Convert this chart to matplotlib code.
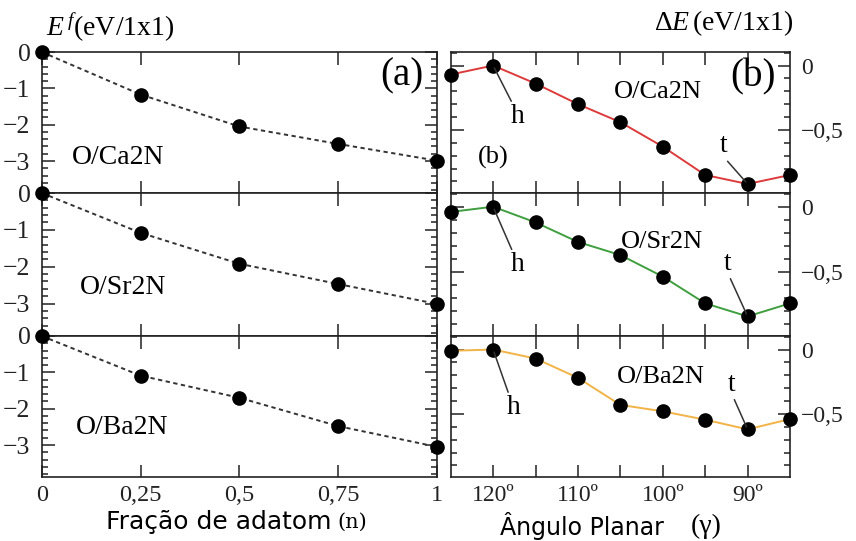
import matplotlib
matplotlib.use("Agg")
import matplotlib.pyplot as plt
from matplotlib.ticker import FixedLocator, MultipleLocator

# ---------------- data ----------------
frac_n = [0.0, 0.25, 0.5, 0.75, 1.0]
ef_ca = [0.0, -1.17, -2.05, -2.53, -2.99]
ef_sr = [0.0, -1.08, -1.92, -2.47, -3.01]
ef_ba = [0.0, -1.09, -1.70, -2.48, -3.05]

angles = [125, 120, 115, 110, 105, 100, 95, 90, 85]
de_ca = [-0.07, 0.0, -0.14, -0.30, -0.44, -0.63, -0.85, -0.92, -0.85]
de_sr = [-0.04, 0.0, -0.12, -0.27, -0.37, -0.535, -0.74, -0.84, -0.74]
de_ba = [-0.01, 0.0, -0.07, -0.22, -0.43, -0.48, -0.545, -0.62, -0.54]

systems = ["O/Ca2N", "O/Sr2N", "O/Ba2N"]
colors = ["#dd3b3b", "#3f9f3f", "#f2b347"]

left_xticks = [0, 0.25, 0.5, 0.75, 1]
left_xticklabels = ["0", "0,25", "0,5", "0,75", "1"]
left_yticks = [0, -1, -2, -3]
left_yticklabels = ["0", "\u22121", "\u22122", "\u22123"]
right_xticks = [120, 115, 110, 105, 100, 95, 90]
right_xticklabels = ["120º", "", "110º", "", "100º", "", "90º"]
right_yticks = [0, -0.5]
right_yticklabels = ["0", "\u22120,5"]

# ---------------- style ----------------
W, H = 856, 541
plt.rcParams["font.family"] = ["Liberation Serif", "DejaVu Serif"]
plt.rcParams["mathtext.fontset"] = "custom"
plt.rcParams["mathtext.rm"] = "Liberation Serif"
plt.rcParams["mathtext.it"] = "Liberation Serif:italic"
plt.rcParams["axes.unicode_minus"] = True

fig = plt.figure(figsize=(W / 100, H / 100), dpi=100)

def fx(px):
    return px / W

def fy(py):
    return 1 - py / H

panel_tops = [52, 193, 336]
panel_bots = [193, 336, 477]

def style_ax(ax):
    for s in ax.spines.values():
        s.set_linewidth(1.2)
        s.set_color("#222222")
    ax.tick_params(which="both", direction="in", top=True, bottom=True,
                   left=True, right=True, colors="#222222", width=1.1)
    ax.tick_params(which="major", length=9)
    ax.tick_params(which="minor", length=4.5)

left_data = [ef_ca, ef_sr, ef_ba]
right_data = [de_ca, de_sr, de_ba]

# label offsets (pixels) for h and t annotations
h_off = [(25, -51), (25, -58), (21, -58)]
t_off = [(-24, 38), (-20, 53), (-16, 45)]
left_lab_pos = [(118, 158), (123, 288), (122, 428)]
right_lab_pos = [(658, 92), (662, 242), (661, 377)]

for i in range(3):
    top, bot = panel_tops[i], panel_bots[i]
    # left panel
    axl = fig.add_axes([fx(41.7), fy(bot), fx(437) - fx(41.7), (bot - top) / H])
    style_ax(axl)
    axl.plot(frac_n, left_data[i], color="#333333", lw=1.4, ls=(0, (2.2, 1.8)),
             marker="o", ms=9.5, mfc="black", mec="black", clip_on=False, zorder=3)
    axl.set_xlim(0, 1)
    axl.set_ylim(-3.88, 0)
    axl.xaxis.set_major_locator(FixedLocator(left_xticks))
    axl.yaxis.set_major_locator(FixedLocator(left_yticks))
    axl.yaxis.set_minor_locator(MultipleLocator(0.2))
    axl.set_yticklabels(left_yticklabels)
    axl.tick_params(axis="y", pad=8, labelsize=18.5)
    if i == 2:
        axl.set_xticklabels(left_xticklabels)
        axl.tick_params(axis="x", pad=6, labelsize=17.5)
    else:
        axl.set_xticklabels([""] * len(left_xticks))
    fig.text(fx(left_lab_pos[i][0]), fy(left_lab_pos[i][1]), systems[i],
             fontsize=20, ha="center", va="center")

    # right panel
    axr = fig.add_axes([fx(450.7), fy(bot), fx(790) - fx(450.7), (bot - top) / H])
    style_ax(axr)
    axr.plot(angles, right_data[i], color=colors[i], lw=1.4, zorder=2)
    axr.plot(angles, right_data[i], ls="none", marker="o", ms=9.5, mfc="black",
             mec="black", clip_on=False, zorder=3)
    axr.set_xlim(125, 85)
    axr.set_ylim(-0.99, 0.105)
    axr.xaxis.set_major_locator(FixedLocator(right_xticks))
    axr.yaxis.set_major_locator(FixedLocator(right_yticks))
    axr.yaxis.set_minor_locator(MultipleLocator(0.1))
    axr.yaxis.tick_right()
    axr.tick_params(which="both", left=True, right=True)
    axr.set_yticklabels(right_yticklabels)
    axr.tick_params(axis="y", pad=8, labelsize=17)
    if i == 2:
        axr.set_xticklabels(right_xticklabels)
        axr.tick_params(axis="x", pad=6, labelsize=17)
    else:
        axr.set_xticklabels([""] * len(right_xticks))
    fig.text(fx(right_lab_pos[i][0]), fy(right_lab_pos[i][1]), systems[i],
             fontsize=19, ha="center", va="center")

    # h and t annotations
    ih = angles.index(120)
    it = angles.index(90)
    axr.annotate("h", xy=(angles[ih], right_data[i][ih]), xytext=h_off[i],
                 textcoords="offset pixels", fontsize=20, ha="center", va="center",
                 arrowprops=dict(arrowstyle="-", color="#333333", lw=1.1,
                                 shrinkA=0, shrinkB=2, relpos=(0.2, 0.9)))
    axr.annotate("t", xy=(angles[it], right_data[i][it]), xytext=t_off[i],
                 textcoords="offset pixels", fontsize=20, ha="center", va="center",
                 arrowprops=dict(arrowstyle="-", color="#333333", lw=1.1,
                                 shrinkA=0, shrinkB=2, relpos=(0.7, 0.0)))

# panel tags
fig.text(fx(402), fy(76), "(a)", fontsize=28, ha="center", va="center")
fig.text(fx(753), fy(77), "(b)", fontsize=28, ha="center", va="center")
fig.text(fx(493), fy(157), "(b)", fontsize=19, ha="center", va="center")

# axis titles
fig.text(fx(46), fy(28), r"$E^{\,f}$(eV/1x1)", fontsize=20, ha="left", va="center")
fig.text(fx(793), fy(23), r"$\Delta E\,$(eV/1x1)", fontsize=20, ha="right", va="center")

# x labels
fig.text(fx(106), fy(522), "Fração de adatom", fontsize=18, ha="left", va="center",
         family="DejaVu Sans")
fig.text(fx(337), fy(522), "(n)", fontsize=15, ha="left", va="center",
         family="DejaVu Serif")
fig.text(fx(500), fy(526), "Ângulo Planar", fontsize=17, ha="left", va="center",
         family="DejaVu Sans")
fig.text(fx(722), fy(526), "(γ)", fontsize=20, ha="right", va="center",
         family="Liberation Serif")

fig.savefig("out.png", dpi=100)
